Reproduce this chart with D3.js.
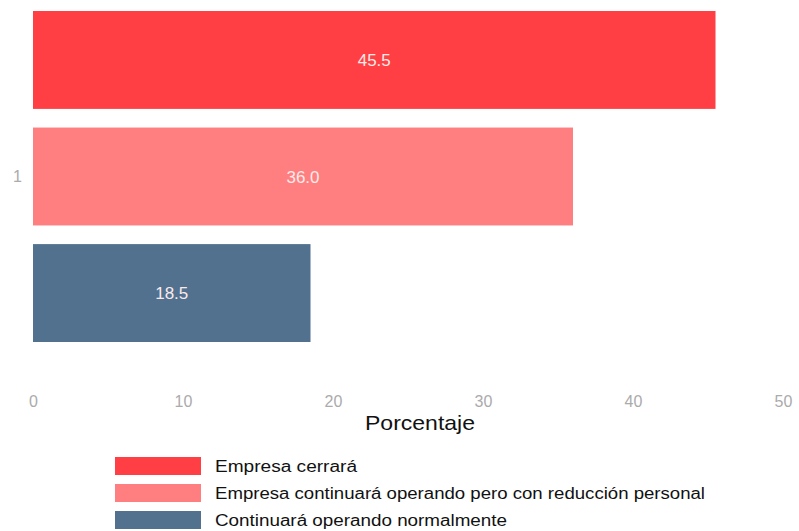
<!DOCTYPE html>
<html>
<head>
<meta charset="utf-8">
<script src="https://cdn.jsdelivr.net/npm/d3@7"></script>
<style>
  html, body { margin: 0; padding: 0; background: #fff; }
  svg { display: block; font-family: "Liberation Sans", Arial, sans-serif; }
</style>
</head>
<body>
<svg id="chart" width="799" height="531"></svg>
<script>
// Responses, in percent
const categories = [
  "Empresa cerrará",
  "Empresa continuará operando pero con reducción personal",
  "Continuará operando normalmente"
];
const values = [45.5, 36.0, 18.5];
const colors = ["#ff3f43", "#ff7f80", "#52718f"];
const xTicks = [0, 10, 20, 30, 40, 50];
const yGroup = ["1"];
const legendWidths = [142, 490, 292];

const svg = d3.select("#chart");
const plot = { left: 33, right: 783, top: 11, bottom: 342 };

const x = d3.scaleLinear().domain([0, 50]).range([plot.left, plot.right]);
const yOuter = d3.scaleBand().domain(yGroup).range([plot.top, plot.bottom]);
const yInner = d3.scaleBand().domain(categories)
  .range([0, yOuter.bandwidth()]).paddingInner(0.16).paddingOuter(0);

// Bars
const g = svg.append("g");
g.selectAll("rect.bar").data(categories).join("rect")
  .attr("class", "bar")
  .attr("x", x(0))
  .attr("y", d => yOuter("1") + yInner(d))
  .attr("width", (d, i) => x(values[i]) - x(0))
  .attr("height", yInner.bandwidth())
  .attr("fill", (d, i) => colors[i]);

// Value labels centred in each bar
g.selectAll("text.val").data(categories).join("text")
  .attr("class", "val")
  .attr("x", (d, i) => (x(0) + x(values[i])) / 2)
  .attr("y", d => yOuter("1") + yInner(d) + yInner.bandwidth() / 2)
  .attr("dy", "0.36em")
  .attr("text-anchor", "middle")
  .attr("font-size", 17)
  .attr("fill", "#fbeaea")
  .text((d, i) => values[i].toFixed(1));

// X axis (labels only)
const xAxis = d3.axisBottom(x).tickValues(xTicks).tickSize(0).tickPadding(0);
const xa = svg.append("g").attr("transform", "translate(0,396)").call(xAxis);
xa.select(".domain").remove();
xa.selectAll("text").attr("font-size", 16).attr("fill", "#ababab")
  .attr("font-family", "Liberation Sans, Arial, sans-serif");

// Y axis (single group label)
const yAxis = d3.axisLeft(yOuter).tickSize(0).tickPadding(0);
const ya = svg.append("g").attr("transform", "translate(22,0)").call(yAxis);
ya.select(".domain").remove();
ya.selectAll("text").attr("font-size", 16).attr("fill", "#ababab")
  .attr("font-family", "Liberation Sans, Arial, sans-serif");

// Axis title
svg.append("text")
  .attr("x", 420).attr("y", 430)
  .attr("text-anchor", "middle")
  .attr("font-size", 21)
  .attr("fill", "#111")
  .attr("textLength", 110)
  .attr("lengthAdjust", "spacingAndGlyphs")
  .text("Porcentaje");

// Legend
const leg = svg.append("g");
const rowY = d3.scalePoint().domain(categories).range([457, 511]);
leg.selectAll("rect").data(categories).join("rect")
  .attr("x", 115).attr("y", d => rowY(d))
  .attr("width", 86).attr("height", 18)
  .attr("fill", (d, i) => colors[i]);
leg.selectAll("text").data(categories).join("text")
  .attr("x", 215).attr("y", d => rowY(d) + 15)
  .attr("font-size", 16)
  .attr("fill", "#111")
  .attr("textLength", (d, i) => legendWidths[i])
  .attr("lengthAdjust", "spacingAndGlyphs")
  .text(d => d);
</script>
</body>
</html>
